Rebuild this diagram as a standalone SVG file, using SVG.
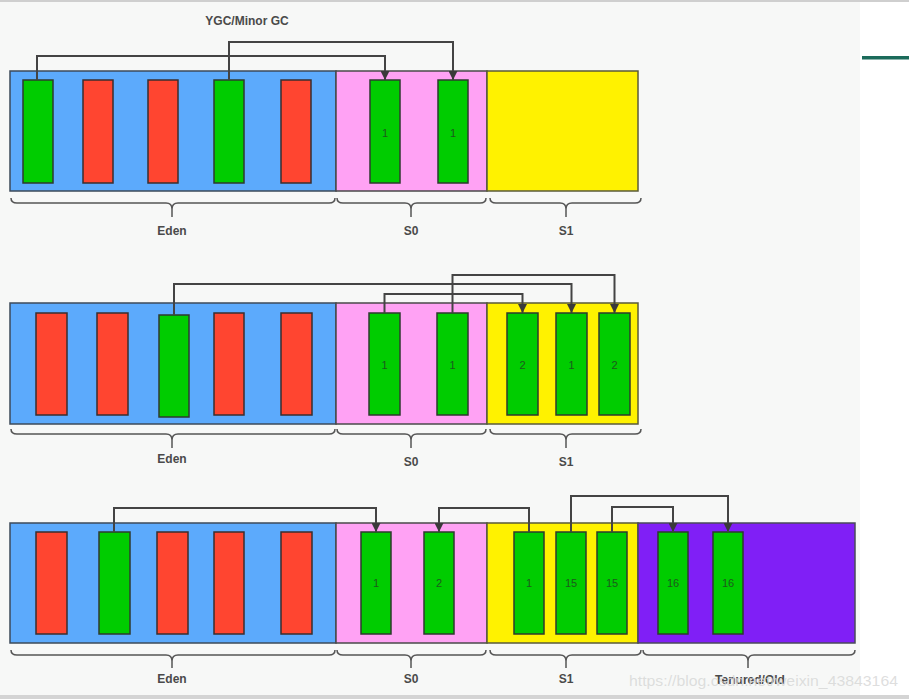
<svg xmlns="http://www.w3.org/2000/svg" width="909" height="699" viewBox="0 0 909 699">
<defs>
<marker id="ah" viewBox="0 0 10 10" refX="10" refY="5" markerWidth="9" markerHeight="9" markerUnits="userSpaceOnUse" orient="auto">
<path d="M0,0 L10,5 L0,10 Z" fill="#3a3a3a"/>
</marker>
<style>
.eden{fill:#5caafc;stroke:#3d4a5a;stroke-width:1.5}
.s0{fill:#ffa2f4;stroke:#4a4a4a;stroke-width:1.5}
.s1{fill:#fff200;stroke:#5a5a3a;stroke-width:1.5}
.old{fill:#801ff6;stroke:#4a4a5a;stroke-width:1.5}
.g{fill:#00cc00;stroke:#2e3a2e;stroke-width:1.5}
.r{fill:#ff4530;stroke:#3a2e2e;stroke-width:1.5}
.n{font-family:"Liberation Sans",Arial,sans-serif;font-size:11px;fill:#1d5a1d;text-anchor:middle;dominant-baseline:central}
.lbl{font-family:"Liberation Sans",Arial,sans-serif;font-size:12px;font-weight:bold;fill:#4a4a4a;text-anchor:middle}
.br{fill:none;stroke:#555;stroke-width:1.5}
.c{fill:none;stroke:#444;stroke-width:2}
</style>
</defs>
<rect x="0" y="0" width="909" height="699" fill="#ffffff"/>
<rect x="0" y="0" width="860" height="699" fill="#f7f8f7"/>
<rect x="0" y="0" width="909" height="2" fill="#cfcfcf"/>
<rect x="0" y="695" width="909" height="4" fill="#d4d4d4"/>
<rect x="862" y="56" width="47" height="3.5" fill="#1b6b5b"/>

<text class="lbl" x="247" y="25" font-size="12">YGC/Minor GC</text>

<!-- Panel 1 -->
<g id="p1-eden"><rect class="eden" x="10" y="71" width="326" height="120"/></g>
<g id="p1-s0"><rect class="s0" x="336" y="71" width="151" height="120"/></g>
<g id="p1-s1"><rect class="s1" x="487" y="71" width="151" height="120"/></g>
<g id="p1-e1"><rect class="g" x="23" y="80" width="30" height="103"/></g>
<g id="p1-e2"><rect class="r" x="83" y="80" width="30" height="103"/></g>
<g id="p1-e3"><rect class="r" x="148" y="80" width="30" height="103"/></g>
<g id="p1-e4"><rect class="g" x="214" y="80" width="30" height="103"/></g>
<g id="p1-e5"><rect class="r" x="281" y="80" width="30" height="103"/></g>
<g id="p1-a1"><rect class="g" x="370" y="80" width="30" height="103"/><text class="n" x="385" y="133">1</text></g>
<g id="p1-a2"><rect class="g" x="438" y="80" width="30" height="103"/><text class="n" x="453" y="133">1</text></g>

<!-- Panel 2 -->
<g id="p2-eden"><rect class="eden" x="10" y="303" width="326" height="121"/></g>
<g id="p2-s0"><rect class="s0" x="336" y="303" width="151" height="121"/></g>
<g id="p2-s1"><rect class="s1" x="487" y="303" width="151" height="121"/></g>
<g id="p2-e1"><rect class="r" x="36" y="313" width="31" height="102"/></g>
<g id="p2-e2"><rect class="r" x="97" y="313" width="31" height="102"/></g>
<g id="p2-e3"><rect class="g" x="159" y="315" width="30" height="102"/></g>
<g id="p2-e4"><rect class="r" x="214" y="313" width="30" height="102"/></g>
<g id="p2-e5"><rect class="r" x="281" y="313" width="31" height="102"/></g>
<g id="p2-a1"><rect class="g" x="369" y="313" width="31" height="102"/><text class="n" x="384.5" y="365">1</text></g>
<g id="p2-a2"><rect class="g" x="437" y="313" width="31" height="102"/><text class="n" x="452.5" y="365">1</text></g>
<g id="p2-b1"><rect class="g" x="507" y="313" width="31" height="102"/><text class="n" x="522.5" y="365">2</text></g>
<g id="p2-b2"><rect class="g" x="556" y="313" width="31" height="102"/><text class="n" x="571.5" y="365">1</text></g>
<g id="p2-b3"><rect class="g" x="599" y="313" width="31" height="102"/><text class="n" x="614.5" y="365">2</text></g>

<!-- Panel 3 -->
<g id="p3-eden"><rect class="eden" x="10" y="523" width="326" height="120"/></g>
<g id="p3-s0"><rect class="s0" x="336" y="523" width="151" height="120"/></g>
<g id="p3-s1"><rect class="s1" x="487" y="523" width="151" height="120"/></g>
<g id="p3-old"><rect class="old" x="638" y="523" width="217" height="120"/></g>
<g id="p3-e1"><rect class="r" x="36" y="532" width="31" height="102"/></g>
<g id="p3-e2"><rect class="g" x="99" y="532" width="31" height="102"/></g>
<g id="p3-e3"><rect class="r" x="157" y="532" width="31" height="102"/></g>
<g id="p3-e4"><rect class="r" x="214" y="532" width="30" height="102"/></g>
<g id="p3-e5"><rect class="r" x="281" y="532" width="31" height="102"/></g>
<g id="p3-a1"><rect class="g" x="361" y="532" width="30" height="102"/><text class="n" x="376" y="583">1</text></g>
<g id="p3-a2"><rect class="g" x="424" y="532" width="30" height="102"/><text class="n" x="439" y="583">2</text></g>
<g id="p3-b1"><rect class="g" x="514" y="532" width="30" height="102"/><text class="n" x="529" y="583">1</text></g>
<g id="p3-b2"><rect class="g" x="556" y="532" width="30" height="102"/><text class="n" x="571" y="583">15</text></g>
<g id="p3-b3"><rect class="g" x="597" y="532" width="30" height="102"/><text class="n" x="612" y="583">15</text></g>
<g id="p3-o1"><rect class="g" x="658" y="532" width="30" height="102"/><text class="n" x="673" y="583">16</text></g>
<g id="p3-o2"><rect class="g" x="713" y="532" width="30" height="102"/><text class="n" x="728" y="583">16</text></g>

<!-- Connectors -->
<g id="connectors">
<path class="c" marker-end="url(#ah)" d="M37,80 V56 H385 V80"/>
<path class="c" marker-end="url(#ah)" d="M229,80 V42 H453 V80"/>
<path class="c" marker-end="url(#ah)" d="M174,315 V284 H571.5 V313"/>
<path class="c" marker-end="url(#ah)" d="M384.5,313 V294 H522.5 V313"/>
<path class="c" marker-end="url(#ah)" d="M452.5,313 V275 H614.5 V313"/>
<path class="c" marker-end="url(#ah)" d="M114,532 V508 H376 V532"/>
<path class="c" marker-end="url(#ah)" d="M529,532 V508 H439 V532"/>
<path class="c" marker-end="url(#ah)" d="M571,532 V496 H728 V532"/>
<path class="c" marker-end="url(#ah)" d="M612,532 V507 H673 V532"/>
</g>

<!-- Braces -->
<g id="braces">
<path class="br" d="M11,198 Q11,203 17,203 H166 Q172,203 172,209 V217 M172,209 Q172,203 178,203 H329 Q335,203 335,198"/>
<path class="br" d="M337,198 Q337,203 343,203 H405 Q411,203 411,209 V217 M411,209 Q411,203 417,203 H480 Q486,203 486,198"/>
<path class="br" d="M490,198 Q490,203 496,203 H560 Q566,203 566,209 V217 M566,209 Q566,203 572,203 H635 Q641,203 641,198"/>
<path class="br" d="M11,429 Q11,434 17,434 H166 Q172,434 172,440 V448 M172,440 Q172,434 178,434 H329 Q335,434 335,429"/>
<path class="br" d="M337,429 Q337,434 343,434 H405 Q411,434 411,440 V448 M411,440 Q411,434 417,434 H480 Q486,434 486,429"/>
<path class="br" d="M490,429 Q490,434 496,434 H560 Q566,434 566,440 V448 M566,440 Q566,434 572,434 H635 Q641,434 641,429"/>
<path class="br" d="M11,650 Q11,655 17,655 H166 Q172,655 172,661 V668 M172,661 Q172,655 178,655 H329 Q335,655 335,650"/>
<path class="br" d="M337,650 Q337,655 343,655 H405 Q411,655 411,661 V668 M411,661 Q411,655 417,655 H480 Q486,655 486,650"/>
<path class="br" d="M490,650 Q490,655 496,655 H560 Q566,655 566,661 V668 M566,661 Q566,655 572,655 H635 Q641,655 641,650"/>
<path class="br" d="M643,650 Q643,655 649,655 H742 Q748,655 748,661 V668 M748,661 Q748,655 754,655 H849 Q855,655 855,650"/>
</g>

<g id="labels">
<text class="lbl" x="172" y="235">Eden</text>
<text class="lbl" x="411" y="235">S0</text>
<text class="lbl" x="566" y="235">S1</text>
<text class="lbl" x="172" y="463">Eden</text>
<text class="lbl" x="411" y="466">S0</text>
<text class="lbl" x="566" y="466">S1</text>
<text class="lbl" x="172" y="683">Eden</text>
<text class="lbl" x="411" y="683">S0</text>
<text class="lbl" x="566" y="683">S1</text>
<text class="lbl" x="750" y="684" font-size="11">Tenured/Old</text>
</g>
<text x="629" y="686" font-family="'Liberation Sans',Arial,sans-serif" font-size="15" fill="#d8d8d8" fill-opacity="0.85" textLength="269" lengthAdjust="spacingAndGlyphs">https://blog.csdn.net/weixin_43843164</text>
</svg>
